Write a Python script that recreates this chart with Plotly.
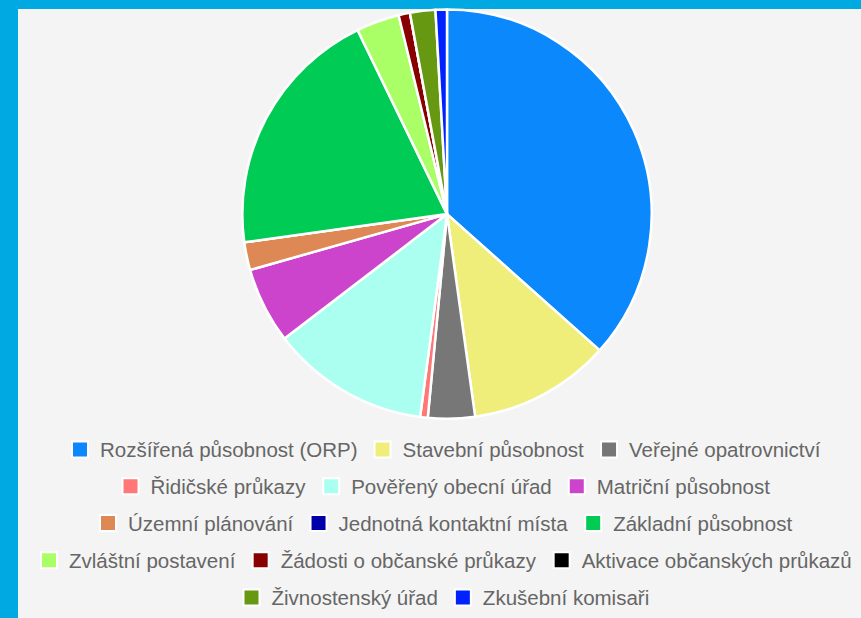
import plotly.graph_objects as go

# Share of agendas by type of competence (percent)
labels = [
    "Rozšířená působnost (ORP)",
    "Stavební působnost",
    "Veřejné opatrovnictví",
    "Řidičské průkazy",
    "Pověřený obecní úřad",
    "Matriční působnost",
    "Územní plánování",
    "Jednotná kontaktní místa",
    "Základní působnost",
    "Zvláštní postavení",
    "Žádosti o občanské průkazy",
    "Aktivace občanských průkazů",
    "Živnostenský úřad",
    "Zkušební komisaři",
]
values = [36.6, 11.2, 3.7, 0.6, 12.5, 6.0, 2.2, 0.0, 20.0, 3.4, 0.9, 0.0, 2.0, 0.9]
colors = [
    "#0a88fc", "#efee7a", "#777777", "#ff7777", "#aafff0", "#cc44cc", "#dd8855",
    "#0000aa", "#00cc55", "#aaff66", "#880000", "#000000", "#669911", "#0022ff",
]
# legend rows (indices into labels)
legend_rows = [[0, 1, 2], [3, 4, 5], [6, 7, 8], [9, 10, 11], [12, 13]]

W, H = 861, 618
cx, cy, r = 447, 215.5, 206

fig = go.Figure()
fig.add_trace(go.Pie(
    labels=labels,
    values=values,
    sort=False,
    direction="clockwise",
    rotation=0,
    textinfo="none",
    marker=dict(colors=colors, line=dict(color="white", width=2.5)),
    showlegend=False,
    domain=dict(x=[(cx - r) / W, (cx + r) / W], y=[(H - cy - r) / H, (H - cy + r) / H]),
))

row_y = [452.5, 489.5, 526.5, 564, 601.5]
legend_cx = 443
layout_legends = {}
for k, row in enumerate(legend_rows):
    key = "legend" if k == 0 else f"legend{k + 1}"
    for i in row:
        fig.add_trace(go.Scatter(
            x=[None], y=[None], mode="markers", name=labels[i],
            marker=dict(symbol="square", size=16, color=colors[i],
                        line=dict(color="white", width=2)),
            legend=key, showlegend=True, hoverinfo="skip",
        ))
    layout_legends[key] = dict(
        orientation="h", x=legend_cx / W, xanchor="center",
        y=1 - row_y[k] / H, yanchor="middle",
        bgcolor="rgba(0,0,0,0)", borderwidth=0,
        font=dict(family="Liberation Sans, Arial, sans-serif", size=20.5, color="#666666"),
        itemclick=False, itemdoubleclick=False,
    )

fig.update_layout(
    width=W, height=H,
    margin=dict(l=0, r=0, t=0, b=0),
    paper_bgcolor="#00a9e1",
    plot_bgcolor="rgba(0,0,0,0)",
    xaxis=dict(visible=False),
    yaxis=dict(visible=False),
    shapes=[dict(type="rect", xref="paper", yref="paper",
                 x0=18 / W, x1=1.01, y0=-0.01, y1=1 - 9 / H,
                 fillcolor="#f4f4f4", line=dict(width=0), layer="below")],
    **layout_legends,
)

fig.write_html("out.html")
